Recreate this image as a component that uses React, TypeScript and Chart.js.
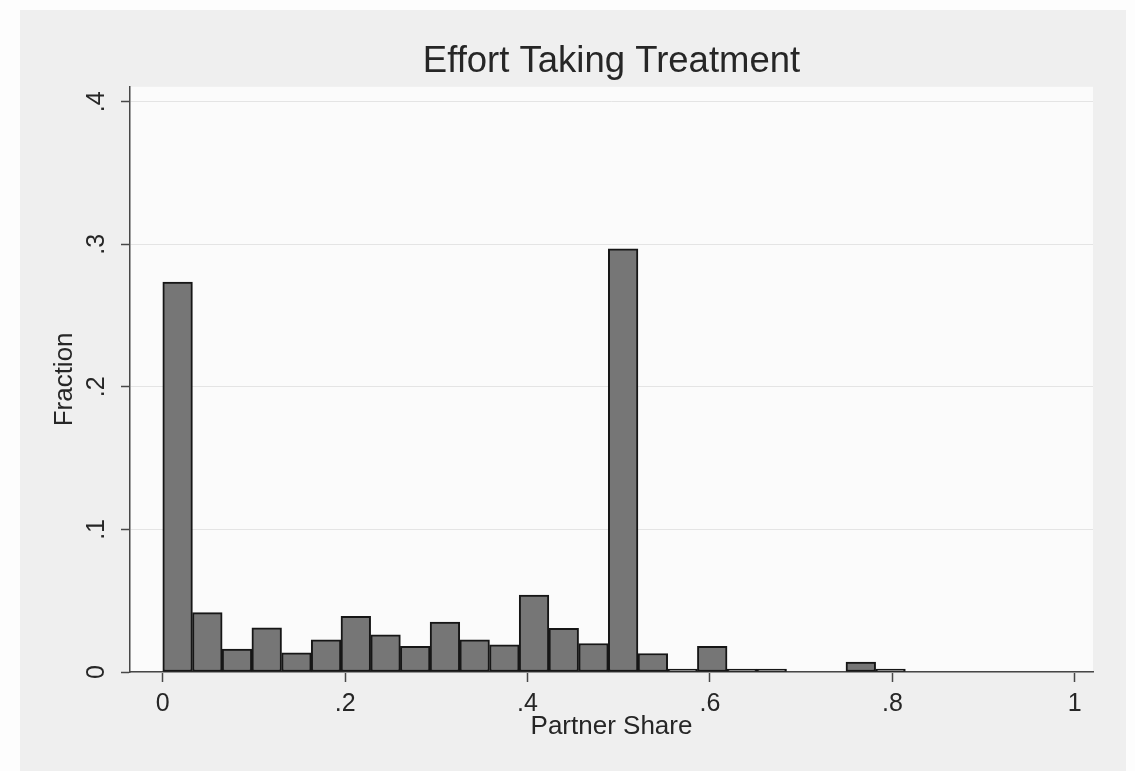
import React, { useEffect, useRef } from 'react';
import { Chart, registerables } from 'chart.js';

Chart.register(...registerables);

// Histogram bins (bin centres on the Partner Share axis)
const binCenters = [
  0.0163, 0.0489, 0.0814, 0.114, 0.1466, 0.1791, 0.2117, 0.2443, 0.2768,
  0.3094, 0.342, 0.3746, 0.4071, 0.4397, 0.4723, 0.5048, 0.5374, 0.57,
  0.6025, 0.6351, 0.6677, 0.7003, 0.7328, 0.7654, 0.798,
];

// Fraction in each bin
const fractions = [
  0.2735, 0.0416, 0.016, 0.031, 0.0135, 0.0225, 0.039, 0.026, 0.018,
  0.035, 0.0225, 0.019, 0.054, 0.0307, 0.02, 0.2968, 0.013, 0.002,
  0.018, 0.002, 0.002, 0, 0, 0.007, 0.002,
];

const xTickValues = [0, 0.2, 0.4, 0.6, 0.8, 1];
const yTickValues = [0, 0.1, 0.2, 0.3, 0.4];

const titleText = 'Effort Taking Treatment';
const xTitleText = 'Partner Share';
const yTitleText = 'Fraction';

const FONT = '"Liberation Sans", Arial, Helvetica, sans-serif';
const TEXT = '#262626';
const AXIS = '#474747';

const fmt = (v: number) => {
  if (Math.abs(v) < 1e-9) return '0';
  if (Math.abs(v - 1) < 1e-9) return '1';
  return '.' + Math.round(v * 10);
};

const bgPlugin = {
  id: 'stataBg',
  beforeDraw(chart: any) {
    const { ctx, chartArea, width, height } = chart;
    ctx.save();
    ctx.fillStyle = '#fdfdfd';
    ctx.fillRect(0, 0, width, height);
    ctx.fillStyle = '#efefef';
    ctx.fillRect(20, 10, 1106, height - 10);
    ctx.fillStyle = '#fbfbfb';
    ctx.fillRect(
      chartArea.left,
      chartArea.top,
      chartArea.right - chartArea.left,
      chartArea.bottom - chartArea.top
    );
    ctx.restore();
  },
};

export default function App() {
  const canvasRef = useRef<HTMLCanvasElement | null>(null);

  useEffect(() => {
    if (!canvasRef.current) return;
    const chart = new Chart(canvasRef.current, {
      type: 'bar',
      data: {
        datasets: [
          {
            label: yTitleText,
            data: binCenters.map((x, i) => ({ x, y: fractions[i] })),
            backgroundColor: '#767676',
            borderColor: '#161616',
            borderWidth: 2,
            borderSkipped: false,
            barPercentage: 1,
            categoryPercentage: 1,
          },
        ],
      },
      options: {
        responsive: false,
        animation: false,
        devicePixelRatio: 1,
        layout: { padding: { left: 0, right: 42, top: 0, bottom: 0 } },
        plugins: {
          legend: { display: false },
          tooltip: { enabled: false },
          title: {
            display: true,
            text: titleText,
            fullSize: false,
            color: TEXT,
            font: { family: FONT, size: 36.5, weight: 'normal' },
            padding: { top: 40, bottom: 3 },
          },
        },
        scales: {
          x: {
            type: 'linear',
            min: -0.0359,
            max: 1.02,
            offset: false,
            afterBuildTicks: (s: any) => {
              s.ticks = xTickValues.map((v) => ({ value: v }));
            },
            afterFit: (s: any) => {
              s.height = 99;
            },
            ticks: {
              callback: (v: any) => fmt(Number(v)),
              color: TEXT,
              font: { family: FONT, size: 25 },
              padding: 7,
              maxRotation: 0,
              minRotation: 0,
              autoSkip: false,
            },
            grid: {
              offset: false,
              drawOnChartArea: false,
              drawTicks: true,
              tickLength: 10,
              tickColor: AXIS,
              tickWidth: 1.5,
            },
            border: { display: true, color: AXIS, width: 1.5 },
            title: {
              display: true,
              text: xTitleText,
              color: TEXT,
              font: { family: FONT, size: 26 },
              padding: { top: 0, bottom: 29 },
            },
          },
          y: {
            type: 'linear',
            min: 0,
            max: 0.4105,
            afterBuildTicks: (s: any) => {
              s.ticks = yTickValues.map((v) => ({ value: v }));
            },
            afterFit: (s: any) => {
              s.width = 130;
            },
            ticks: {
              callback: (v: any) => fmt(Number(v)),
              color: TEXT,
              font: { family: FONT, size: 25 },
              padding: 13,
              minRotation: 90,
              maxRotation: 90,
              crossAlign: 'center',
              autoSkip: false,
            },
            grid: {
              color: '#e4e4e4',
              lineWidth: 1,
              drawTicks: true,
              tickLength: 9,
              tickColor: AXIS,
              tickWidth: 1.5,
            },
            border: { display: true, color: AXIS, width: 1.5 },
            title: {
              display: true,
              text: yTitleText,
              color: TEXT,
              font: { family: FONT, size: 26 },
              padding: { top: 49.4, bottom: 0 },
            },
          },
        },
      } as any,
      plugins: [bgPlugin],
    });
    return () => chart.destroy();
  }, []);

  return (
    <div style={{ position: 'absolute', left: 0, top: 0, width: 1135, height: 771 }}>
      <canvas ref={canvasRef} width={1135} height={771} style={{ display: 'block' }} />
    </div>
  );
}
